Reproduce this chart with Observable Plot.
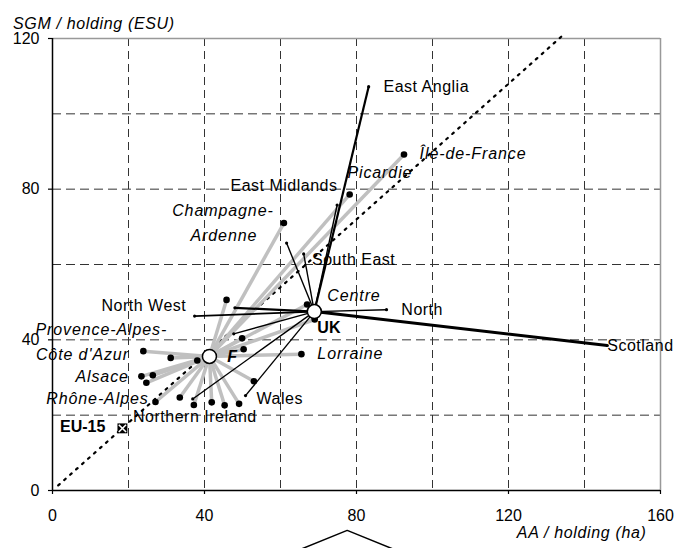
<!DOCTYPE html>
<html>
<head>
<meta charset="utf-8">
<script src="https://cdn.jsdelivr.net/npm/d3@7"></script>
<script src="https://cdn.jsdelivr.net/npm/@observablehq/plot@0.6"></script>
<style>
  body { margin: 0; background: #fff; }
  #chart svg { display: block; }
</style>
</head>
<body>
<div id="chart"></div>
<script>
// ---- Data (AA / holding in ha, SGM / holding in ESU) ----
// French regions (grey spokes from F)
const frName = ["Île-de-France","Picardie","Champagne-Ardenne","Centre","","","","","Lorraine","Provence-Alpes-Côte d'Azur","","","Alsace","","","Rhône-Alpes","","","","","",""];
const frAA  = [92.5, 78.2, 60.9, 67.0, 69.0, 45.8, 49.9, 50.3, 65.5, 23.9, 31.1, 38.1, 23.4, 26.4, 24.7, 27.1, 33.5, 37.2, 41.9, 45.3, 49.1, 53.0];
const frSGM = [89.2, 78.6, 71.0, 49.4, 45.4, 50.6, 40.4, 37.5, 36.2, 37.0, 35.2, 34.5, 30.3, 30.6, 28.6, 23.5, 24.7, 22.7, 23.4, 22.6, 23.0, 29.0];

// UK regions (black spokes from UK)
const ukName = ["East Anglia","East Midlands","South East","","North West","","","North","Scotland","Wales","Northern Ireland"];
const ukAA  = [83.2, 74.9, 66.1, 61.6, 37.4, 48.0, 47.7, 87.9, 146.0, 50.8, 36.9];
const ukSGM = [107.2, 75.8, 62.8, 65.7, 46.3, 48.5, 41.6, 48.0, 38.5, 25.2, 24.3];

// Country averages
const countryName = ["F", "UK"];
const countryAA  = [41.3, 68.9];
const countrySGM = [35.6, 47.5];
const eu15AA = [18.4];
const eu15SGM = [16.5];

// EU-15 ratio line (dotted)
const ratioAA  = [1.5, 134.8];
const ratioSGM = [1.35, 121.3];

// Axes
const xTicks = [0, 40, 80, 120, 160];
const yTicks = [0, 40, 80, 120];
const xGrid = [20, 40, 60, 80, 100, 120, 140];
const yGrid = [20, 40, 60, 80, 100];
const xTitle = "AA / holding (ha)";
const yTitle = "SGM / holding (ESU)";

// Labels
const labelText = ["East Anglia","Île-de-France","Picardie","East Midlands","Champagne-","Ardenne","South East","Centre","North","UK","Scotland","Lorraine","Wales","North West","Provence-Alpes-","Côte d'Azur","Alsace","Rhône-Alpes","Northern Ireland","EU-15","F"];
const labelAA  = [87.1, 96.6, 77.6, 75.0, 58.2, 53.9, 68.3, 72.3, 91.8, 69.7, 146.0, 69.7, 53.7, 35.2, 30.2, 20.1, 20.1, 25.3, 21.2, 13.9, 46.0];
const labelSGM = [107.2, 89.5, 84.2, 81.0, 74.3, 67.7, 61.2, 51.8, 48.0, 43.1, 38.3, 36.3, 24.3, 49.1, 42.7, 36.1, 30.1, 24.3, 19.6, 16.8, 35.4];
const labelSide = ["start","start","start","end","end","end","start","start","start","start","start","start","start","end","end","end","end","end","start","end","start"];

// Cropped chevron at the bottom of the picture
const chevronAA  = [63.1, 77.55, 92.0];
const chevronSGM = [-16.5, -10.6, -16.5];

// ---- Build tables ----
const fr = frAA.map((a, i) => ({name: frName[i], aa: a, sgm: frSGM[i]}));
const uk = ukAA.map((a, i) => ({name: ukName[i], aa: a, sgm: ukSGM[i], idx: i}));
const countries = countryAA.map((a, i) => ({name: countryName[i], aa: a, sgm: countrySGM[i]}));
const F = countries[0], UK = countries[1];
const eu15 = eu15AA.map((a, i) => ({aa: a, sgm: eu15SGM[i]}));
const ratio = ratioAA.map((a, i) => ({aa: a, sgm: ratioSGM[i]}));
const chevron = chevronAA.map((a, i) => ({aa: a, sgm: chevronSGM[i]}));
const labels = labelText.map((t, i) => ({text: t, aa: labelAA[i], sgm: labelSGM[i], side: labelSide[i]}));

const italicSet = new Set(["Île-de-France","Picardie","Champagne-","Ardenne","Centre","Lorraine","Provence-Alpes-","Côte d'Azur","Alsace","Rhône-Alpes"]);
const boldSet = new Set(["UK","EU-15"]);
const boldItalicSet = new Set(["F"]);
const lblNormal = labels.filter(d => !italicSet.has(d.text) && !boldSet.has(d.text) && !boldItalicSet.has(d.text));
const lblItalic = labels.filter(d => italicSet.has(d.text));
const lblBold = labels.filter(d => boldSet.has(d.text));
const lblBoldItalic = labels.filter(d => boldItalicSet.has(d.text));

const ukWidth = d => d.name === "Scotland" ? 3 : (d.name === "East Anglia" || d.idx === 5) ? 2.2 : d.name === "North West" ? 1.8 : 1.4;

const textMarks = (data, opts) => [
  Plot.text(data.filter(d => d.side === "start"), {x: "aa", y: "sgm", text: "text", textAnchor: "start", fill: "black", ...opts}),
  Plot.text(data.filter(d => d.side === "end"), {x: "aa", y: "sgm", text: "text", textAnchor: "end", fill: "black", ...opts})
];

const chart = Plot.plot({
  width: 688,
  height: 548,
  marginLeft: 52,
  marginRight: 28,
  marginTop: 38,
  marginBottom: 58,
  x: {domain: [0, 160]},
  y: {domain: [0, 120]},
  style: {fontFamily: "'Liberation Sans', Arial, sans-serif", fontSize: "16px", background: "white", color: "black", overflow: "visible"},
  marks: [
    Plot.ruleX(xGrid, {stroke: "#333", strokeWidth: 1, strokeDasharray: "8,5"}),
    Plot.ruleY(yGrid, {stroke: "#333", strokeWidth: 1, strokeDasharray: "9,5"}),
    Plot.ruleY([120], {stroke: "#999", strokeWidth: 1.5}),
    Plot.ruleX([160], {stroke: "#999", strokeWidth: 1.5}),
    Plot.line(ratio, {x: "aa", y: "sgm", stroke: "black", strokeWidth: 2.2, strokeDasharray: "2,6", clip: false}),
    Plot.link(fr, {x1: () => F.aa, y1: () => F.sgm, x2: "aa", y2: "sgm", stroke: "#c0c0c0", strokeWidth: 3.5}),
    Plot.link(uk, {x1: () => UK.aa, y1: () => UK.sgm, x2: "aa", y2: "sgm", stroke: "black", strokeWidth: ukWidth}),
    Plot.dot(fr, {x: "aa", y: "sgm", r: 3.3, fill: "black"}),
    Plot.dot(uk, {x: "aa", y: "sgm", r: 1.6, fill: "black"}),
    Plot.dot(countries, {x: "aa", y: "sgm", r: 7, fill: "white", stroke: "black", strokeWidth: 1.5}),
    Plot.dot(eu15, {x: "aa", y: "sgm", symbol: "square", r: 5.6, fill: "black"}),
    Plot.dot(eu15, {x: "aa", y: "sgm", symbol: "times", r: 3.4, stroke: "white", strokeWidth: 1.6}),
    ...textMarks(lblNormal, {}),
    ...textMarks(lblItalic, {fontStyle: "italic"}),
    ...textMarks(lblBold, {fontWeight: "bold"}),
    ...textMarks(lblBoldItalic, {fontWeight: "bold", fontStyle: "italic"}),
    Plot.ruleX([0], {stroke: "black", strokeWidth: 1.5}),
    Plot.ruleY([0], {stroke: "black", strokeWidth: 1.5}),
    Plot.axisX({ticks: xTicks, tickSize: 4, tickPadding: 15, label: null, stroke: "black", strokeWidth: 1.2}),
    Plot.axisY({ticks: yTicks, tickSize: 4, tickPadding: 9, label: null, stroke: "black", strokeWidth: 1.2}),
    Plot.text([yTitle], {frameAnchor: "top-left", text: d => d, dx: -39.5, dy: -20.5, textAnchor: "start", fontStyle: "italic", fill: "black"}),
    Plot.text([xTitle], {frameAnchor: "bottom-right", text: d => d, dx: -14, dy: 47.5, textAnchor: "end", fontStyle: "italic", fill: "black"}),
    Plot.line(chevron, {x: "aa", y: "sgm", stroke: "black", strokeWidth: 1.5, clip: false})
  ]
});

// letter spacing to match the reference's rendering
d3.select(chart).selectAll('g[aria-label="text"]').each(function () {
  const g = d3.select(this);
  const italic = g.attr("font-style") === "italic";
  const bold = g.attr("font-weight") === "bold";
  g.selectAll("text").each(function () {
    const t = d3.select(this);
    const s = t.text();
    let ls = 0.5;
    if (s === xTitle || s === yTitle) ls = 0.65;
    else if (bold) ls = 0;
    else if (italic) ls = 0.9;
    t.style("letter-spacing", ls + "px");
  });
});

document.getElementById("chart").appendChild(chart);
</script>
</body>
</html>
